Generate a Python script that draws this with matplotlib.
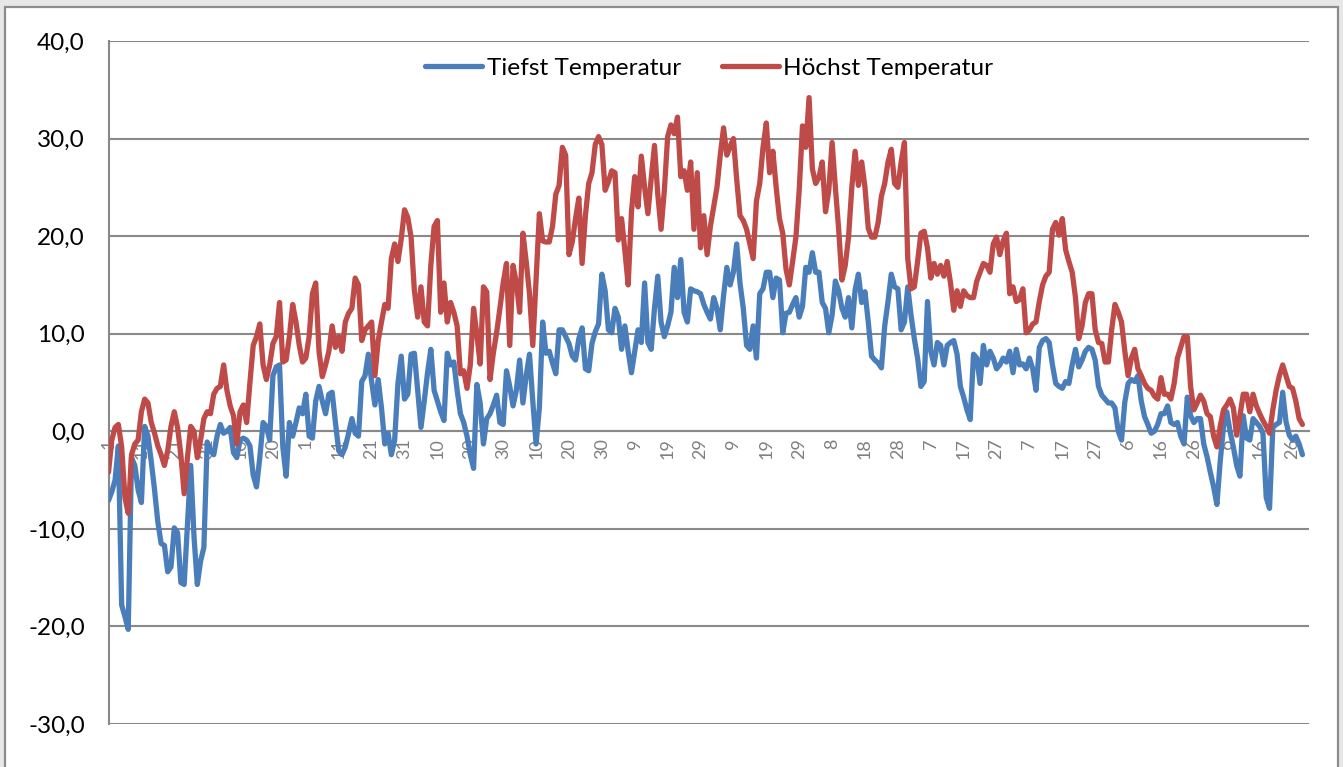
import numpy as np
import pandas as pd
import matplotlib
matplotlib.use("Agg")
import matplotlib.pyplot as plt
from matplotlib.patches import Rectangle
from matplotlib.lines import Line2D

plt.rcParams['font.family'] = ['Lato', 'DejaVu Sans']

# ---------------- data ----------------
start_date = "2012-01-01"
n_days = 366
series_names = ["Tiefst Temperatur", "Höchst Temperatur"]

tiefst = [
    -7.1, -6.2, -5.0, -1.5, -17.8, -19.0, -20.3, -2.7, -3.5, -6.0,
    -7.3, 0.5, -0.5, -3.1, -6.0, -9.3, -11.5, -11.7, -14.4, -13.9,
    -9.9, -10.4, -15.5, -15.7, -9.7, -3.5, -10.8, -15.7, -13.3, -11.9,
    -1.1, -2.0, -2.4, -0.5, 0.7, -0.2, 0.0, 0.4, -2.2, -2.7,
    -0.9, -0.7, -0.9, -1.5, -4.5, -5.7, -2.7, 0.9, 0.5, -0.9,
    5.7, 6.6, 6.8, -1.6, -4.6, 0.9, -0.5, 0.9, 2.4, 1.8,
    3.8, -0.5, -0.7, 3.1, 4.6, 3.1, 1.8, 3.8, 4.0, 0.9,
    -2.0, -2.4, -1.6, -0.2, 1.3, -0.2, -0.5, 5.1, 5.7, 7.9,
    5.1, 2.7, 5.3, 2.4, -1.3, -0.2, -2.4, -0.9, 4.9, 7.7,
    3.3, 3.8, 7.9, 8.0, 4.2, 0.4, 3.1, 6.0, 8.4, 4.2,
    3.1, 2.0, 1.1, 8.0, 6.8, 7.1, 4.2, 1.8, 0.9, -0.5,
    -2.4, -3.8, 4.8, 2.9, -1.3, 1.3, 1.8, 2.7, 3.7, 0.9,
    0.7, 6.2, 4.6, 2.6, 4.2, 7.3, 2.9, 5.7, 7.9, 3.1,
    -1.3, 2.4, 11.2, 8.0, 8.2, 7.0, 5.9, 10.4, 10.4, 9.7,
    9.0, 7.7, 7.3, 9.5, 10.6, 6.4, 6.2, 9.0, 10.2, 11.0,
    16.1, 14.4, 10.4, 10.1, 12.6, 11.7, 8.4, 10.8, 8.2, 6.0,
    8.2, 10.4, 9.1, 15.2, 9.1, 8.4, 12.6, 15.9, 11.2, 9.7,
    10.8, 12.2, 16.8, 13.7, 17.6, 12.2, 11.2, 14.6, 14.4, 14.3,
    14.1, 13.0, 12.2, 11.5, 13.7, 12.6, 10.4, 13.9, 16.8, 15.0,
    16.3, 19.2, 15.2, 12.6, 8.8, 8.4, 10.8, 7.5, 14.1, 14.6,
    16.3, 16.3, 13.7, 15.7, 15.5, 10.1, 12.1, 12.2, 13.0, 13.7,
    11.7, 12.8, 16.8, 16.3, 18.3, 16.3, 16.3, 13.2, 12.6, 10.1,
    11.9, 15.4, 14.4, 12.6, 11.7, 13.7, 10.6, 14.5, 16.1, 13.2,
    14.3, 11.2, 7.7, 7.3, 7.0, 6.5, 10.8, 13.3, 16.1, 14.8,
    14.6, 10.4, 11.2, 14.8, 11.9, 9.5, 7.5, 4.6, 5.1, 13.3,
    8.2, 6.8, 9.1, 8.8, 6.8, 8.8, 9.1, 9.3, 7.9, 4.6,
    3.5, 2.2, 1.2, 7.9, 7.5, 4.9, 8.8, 6.8, 8.2, 7.5,
    6.4, 6.8, 7.5, 7.1, 8.2, 6.0, 8.4, 6.8, 6.9, 6.4,
    7.5, 6.4, 4.2, 8.6, 9.3, 9.5, 9.1, 6.8, 4.9, 4.6,
    4.4, 5.1, 4.9, 6.8, 8.4, 6.6, 7.3, 8.2, 8.6, 8.4,
    7.3, 4.6, 3.7, 3.3, 2.9, 2.9, 2.4, 0.0, -0.9, 3.0,
    4.9, 5.3, 5.1, 5.7, 3.1, 1.5, 0.7, -0.2, 0.0, 0.7,
    1.8, 1.8, 2.6, 0.9, 0.7, 0.9, -0.5, -1.3, 3.5, 1.6,
    0.9, 1.3, 1.3, -1.3, -2.6, -4.2, -5.7, -7.5, -3.1, 0.5,
    2.0, 0.0, -1.6, -3.5, -4.6, 1.6, -0.7, -0.9, 1.3, 0.9,
    0.5, -0.2, -6.8, -7.9, 0.4, 0.7, 0.9, 4.0, 1.0, -0.4,
    -0.9, -0.5, -1.3, -2.4,
]

hoechst = [
    -4.2, -0.9, 0.4, 0.7, -1.6, -6.8, -8.4, -2.4, -1.3, -0.9,
    2.0, 3.3, 2.9, 0.9, -0.2, -1.5, -2.4, -3.5, -2.0, 0.5,
    2.0, 0.4, -2.4, -6.4, -2.7, 0.5, 0.0, -2.7, -0.9, 1.3,
    2.0, 1.8, 3.8, 4.4, 4.6, 6.8, 4.2, 2.6, 1.6, -1.3,
    2.0, 2.7, 0.9, 5.0, 8.8, 9.7, 11.0, 6.8, 5.3, 6.8,
    9.0, 9.7, 13.2, 7.1, 7.3, 9.7, 13.0, 11.2, 8.8, 7.1,
    7.5, 9.7, 14.1, 15.2, 8.2, 5.6, 6.8, 8.2, 10.8, 8.6,
    9.7, 8.2, 11.2, 12.1, 12.6, 15.7, 15.0, 9.3, 10.4, 10.8,
    11.2, 5.7, 9.3, 11.2, 13.0, 12.6, 17.7, 19.2, 17.4, 19.7,
    22.7, 21.9, 19.9, 14.4, 11.7, 14.8, 11.2, 10.8, 17.0, 21.0,
    21.6, 12.2, 15.2, 11.2, 13.2, 12.2, 10.8, 5.9, 6.2, 4.4,
    6.8, 12.6, 9.9, 6.9, 14.8, 14.3, 5.3, 8.0, 10.1, 12.6,
    15.2, 17.2, 8.8, 17.0, 15.2, 12.2, 20.3, 17.4, 14.1, 8.8,
    15.5, 22.3, 19.5, 19.4, 19.4, 21.0, 24.3, 25.2, 29.1, 28.3,
    18.1, 19.4, 21.8, 23.9, 17.2, 22.1, 25.4, 26.5, 29.4, 30.2,
    29.4, 24.7, 25.6, 26.7, 26.5, 19.6, 21.8, 18.5, 15.0, 22.5,
    26.1, 23.0, 28.2, 25.0, 22.3, 25.9, 29.3, 24.3, 20.7, 24.7,
    30.2, 31.4, 30.5, 32.2, 26.1, 26.7, 24.7, 27.6, 20.7, 26.5,
    18.8, 22.1, 18.1, 21.0, 23.0, 25.0, 28.3, 31.1, 28.3, 29.2,
    30.0, 25.8, 22.1, 21.6, 20.7, 19.2, 17.7, 23.6, 25.4, 29.1,
    31.6, 26.5, 28.7, 25.0, 21.8, 20.3, 16.6, 15.0, 17.4, 19.9,
    24.7, 31.3, 29.1, 34.2, 26.9, 25.4, 26.0, 27.6, 22.5, 24.7,
    29.6, 25.0, 20.7, 15.5, 17.0, 19.9, 25.0, 28.7, 25.2, 27.6,
    25.0, 20.8, 19.9, 19.9, 21.4, 24.1, 25.4, 27.6, 28.9, 25.4,
    25.0, 27.6, 29.6, 17.7, 14.6, 14.8, 17.4, 20.3, 20.5, 18.8,
    15.7, 17.2, 16.1, 17.0, 15.9, 17.4, 15.2, 12.4, 14.4, 12.8,
    14.4, 13.9, 13.7, 13.7, 15.4, 16.3, 17.2, 17.0, 16.3, 19.2,
    19.9, 18.1, 19.5, 20.3, 14.1, 14.8, 13.3, 13.5, 14.6, 10.1,
    10.4, 11.0, 11.2, 13.3, 15.0, 15.9, 16.3, 20.7, 21.4, 20.1,
    21.8, 18.6, 17.4, 16.3, 13.7, 9.5, 10.8, 13.2, 14.1, 14.1,
    10.4, 9.1, 9.0, 7.1, 7.1, 10.4, 13.0, 12.2, 11.2, 8.2,
    5.7, 7.5, 8.4, 6.4, 5.7, 4.9, 4.4, 4.2, 3.6, 3.3,
    5.5, 3.8, 3.8, 3.3, 4.9, 7.5, 8.6, 9.7, 9.7, 4.6,
    2.2, 2.9, 3.7, 3.1, 1.8, 1.5, -0.5, -1.6, 0.5, 2.2,
    2.7, 3.3, 2.4, -0.4, 1.6, 3.8, 3.8, 2.0, 3.8, 2.6,
    1.8, 1.1, 0.5, -0.2, 2.2, 4.2, 5.7, 6.8, 5.7, 4.6,
    4.4, 3.1, 1.3, 0.7,
]

y_ticks = [-30, -20, -10, 0, 10, 20, 30, 40]
label_step = 10

# ---------------- figure ----------------
W, H = 1343, 767
fig = plt.figure(figsize=(W / 100, H / 100), dpi=100, facecolor="#e7e7e7")

# white chart area with grey border (background axes)
bg = fig.add_axes([0, 0, 1, 1], zorder=-5)
bg.set_xlim(0, W)
bg.set_ylim(H, 0)
bg.axis("off")
bg.add_patch(Rectangle((5, 7), 1338 - 5, H + 10, facecolor="white",
                       edgecolor="#8c8c8c", linewidth=1.6))

left, right, top, bottom = 108.5, 1309, 41, 724
ax = fig.add_axes([left / W, 1 - bottom / H, (right - left) / W, (bottom - top) / H],
                  zorder=1)
ax.set_facecolor("none")

dates = pd.date_range(start_date, periods=n_days)
categories = [str(d.day) for d in dates]

def pad(vals):
    arr = np.full(n_days, np.nan)
    arr[:len(vals)] = vals
    return arr

x = np.arange(n_days)
blue = "#4A7EBB"
red = "#BE4B48"
lw = 3.8
ax.plot(x, pad(tiefst), color=blue, lw=lw, solid_joinstyle="round",
        solid_capstyle="round", zorder=3)
ax.plot(x, pad(hoechst), color=red, lw=lw, solid_joinstyle="round",
        solid_capstyle="round", zorder=4)

ax.set_xlim(0, n_days - 1)
ax.set_ylim(-30, 40)

grid_c = "#898989"
ax.set_yticks(y_ticks)
ax.set_yticklabels([f"{v:.1f}".replace(".", ",") for v in y_ticks])
ax.yaxis.grid(True, color=grid_c, lw=1.5, zorder=1)
ax.set_axisbelow(True)

for s in ["top", "right"]:
    ax.spines[s].set_visible(False)
ax.spines["left"].set_color(grid_c)
ax.spines["left"].set_linewidth(1.5)
ax.spines["bottom"].set_position(("data", 0))
ax.spines["bottom"].set_color(grid_c)
ax.spines["bottom"].set_linewidth(1.5)

tick_pos = x[::label_step]
ax.set_xticks(tick_pos)
ax.set_xticklabels([categories[i] for i in tick_pos], rotation=90)
ax.tick_params(axis="x", length=0, pad=5, labelsize=13, labelcolor="#7f7f7f")
ax.tick_params(axis="y", length=0, pad=17, labelsize=17.5, labelcolor="black")

handles = [Line2D([0], [0], color=blue, lw=lw, solid_capstyle="round"),
           Line2D([0], [0], color=red, lw=lw, solid_capstyle="round")]
ax.legend(handles, series_names, loc="center", bbox_to_anchor=(0.5006, 0.9605),
          ncol=2, frameon=False, fontsize=17.6, handlelength=2.3,
          handletextpad=0.2, columnspacing=1.7, borderaxespad=0)

fig.savefig("out.png", dpi=100, facecolor=fig.get_facecolor())
